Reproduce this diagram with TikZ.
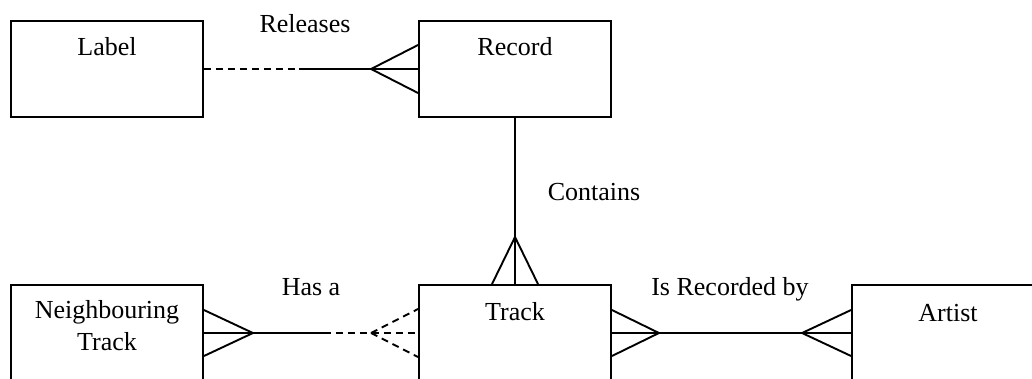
\documentclass[tikz,border=0pt]{standalone}
\usepackage{fontspec}
\setmainfont{Liberation Serif}
\usetikzlibrary{calc}
\begin{document}
\begin{tikzpicture}[x=1pt,y=-1pt,line width=1.9pt,
  ent/.style={draw,minimum width=192pt,minimum height=96pt,inner sep=0pt},
  txt/.style={anchor=base,font=\fontsize{26}{32}\selectfont,inner sep=0pt},
  dsh/.style={dash pattern=on 7pt off 5pt}]
\useasboundingbox (0,0) rectangle (1032,378);
\clip (0,0) rectangle (1032,378);
% entities
\node[ent] (label) at (107,69) {};
\node[ent] (record) at (515,69) {};
\node[ent] (neigh) at (107,333) {};
\node[ent] (track) at (515,333) {};
\node[ent] (artist) at (948,333) {};
% entity texts
\node[txt] (labelt) at (107,55) {Label};
\node[txt] (recordt) at (515,55) {Record};
\node[txt] (neigh1) at (107,318) {Neighbouring};
\node[txt] (neigh2) at (107,350) {Track};
\node[txt] (trackt) at (515,320) {Track};
\node[txt] (artistt) at (948,321) {Artist};
% relationship texts
\node[txt] (rel1) at (305,32) {Releases};
\node[txt] (rel2) at (594,200) {Contains};
\node[txt] (rel3) at (311,295) {Has a};
\node[txt] (rel4) at (730,295) {Is Recorded by};
% Label -- Record
\draw[dsh] (label.east) -- ($(label.east)+(95,0)$) coordinate (m1);
\draw (m1) -- (record.west);
\draw ($(record.west)+(-47,0)$) coordinate (a1) -- ($(record.west)+(0,-24)$)
      (a1) -- ($(record.west)+(0,24)$);
% Record -- Track
\draw (record.south) -- (track.north);
\draw ($(track.north)+(0,-47)$) coordinate (a2) -- ($(track.north)+(-23,0)$)
      (a2) -- ($(track.north)+(23,0)$);
% Neighbouring Track -- Track
\draw (neigh.east) -- ($(neigh.east)+(120,0)$) coordinate (m2);
\draw[dsh] (m2) -- (track.west);
\draw ($(neigh.east)+(49,0)$) coordinate (a3) -- ($(neigh.east)+(0,-23)$)
      (a3) -- ($(neigh.east)+(0,23)$);
\draw[dsh] ($(track.west)+(-47,0)$) coordinate (a4) -- ($(track.west)+(0,-24)$)
      (a4) -- ($(track.west)+(0,24)$);
% Track -- Artist
\draw (track.east) -- (artist.west);
\draw ($(track.east)+(47,0)$) coordinate (a5) -- ($(track.east)+(0,-23)$)
      (a5) -- ($(track.east)+(0,23)$);
\draw ($(artist.west)+(-49,0)$) coordinate (a6) -- ($(artist.west)+(0,-23)$)
      (a6) -- ($(artist.west)+(0,23)$);
\end{tikzpicture}
\end{document}
